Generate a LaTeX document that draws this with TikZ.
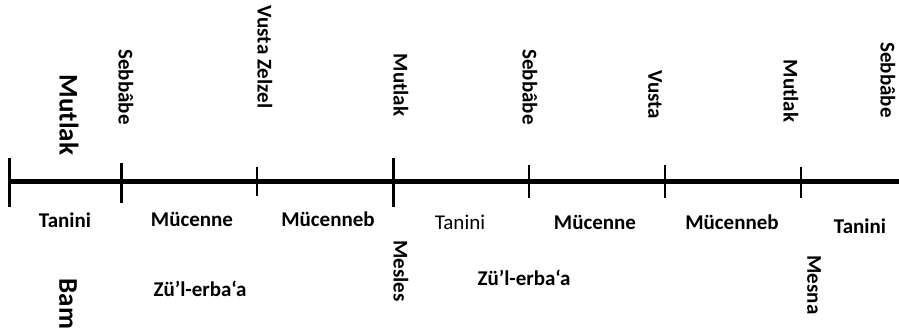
\documentclass[tikz,border=0pt]{standalone}
\usepackage{fontspec}
\setmainfont{Carlito}
\usetikzlibrary{positioning}

\begin{document}
\begin{tikzpicture}[x=1pt, y=-1pt, every node/.style={inner sep=0pt, font=\bfseries\fontsize{21}{24}\selectfont},
        big/.style={font=\bfseries\fontsize{27}{30}\selectfont}, down/.style={rotate=-90}, thin label/.style={font=\fontsize{21}{24}\selectfont}]
        \useasboundingbox (0,0) rectangle (899,334);

        % the string
        \coordinate (start) at (9,181.5);
        \coordinate (end) at (899,181.5);
        \draw[line width=4.5pt] (start) -- (end);

        % frets
        \foreach \x/\a/\b/\w in {9/158/207/3, 121/163/203/3, 257/167/196/1.2, 393/158/207/3, 529/165/198/1.2, 665/165/198/1.2, 801/167/198/1.2}
        \draw[line width=\w pt] (\x,\a) -- (\x,\b);

        % fret names
        \node[down, big] (mutlak0) at (69,115) {Mutlak};
        \node[down] (sebbabe1) at (126,87) {Sebbâbe};
        \node[down] (zelzel) at (265,57) {Vusta Zelzel};
        \node[down] (mutlak1) at (401,85) {Mutlak};
        \node[down] (sebbabe2) at (530,87) {Sebbâbe};
        \node[down] (vusta) at (655,95) {Vusta};
        \node[down] (mutlak2) at (791,91) {Mutlak};
        \node[down] (sebbabe3) at (888,80) {Sebbâbe};

        % intervals
        \node (tanini1) at (65,220) {Tanini};
        \node (mucenne1) at (192,219) {Mücenne};
        \node (mucenneb1) at (328,219) {Mücenneb};
        \node[thin label] (tanini2) at (460,222) {Tanini};
        \node (mucenne2) at (595,222) {Mücenne};
        \node (mucenneb2) at (732,222) {Mücenneb};
        \node (tanini3) at (860,226) {Tanini};

        % fourths and strings
        \node (erbaa1) at (200,289) {Zü’l-erba‘a};
        \node (erbaa2) at (524,278) {Zü’l-erba‘a};
        \node[down, big] (bam) at (68,304) {Bam};
        \node[down] (mesles) at (401,271) {Mesles};
        \node[down] (mesna) at (814,285) {Mesna};
    \end{tikzpicture}
\end{document}
